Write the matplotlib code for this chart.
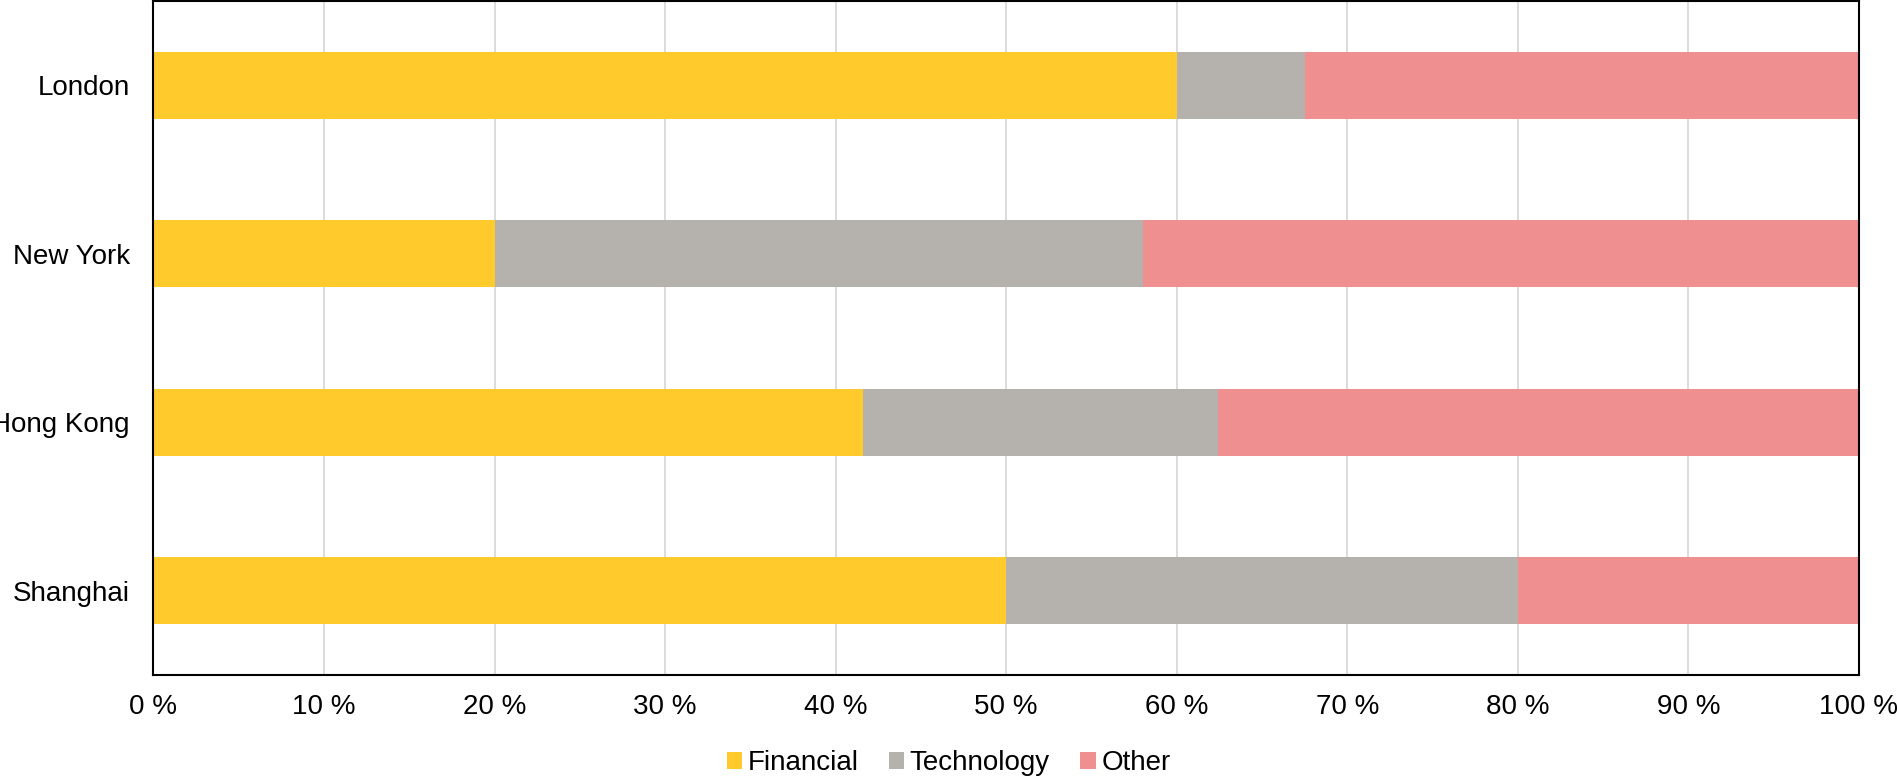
import numpy as np
import matplotlib
matplotlib.use('Agg')
import matplotlib.pyplot as plt

plt.rcParams['font.family'] = ['Liberation Sans', 'DejaVu Sans']

# data (share of listings, %)
cities = ['London', 'New York', 'Hong Kong', 'Shanghai']
financial = [60.0, 20.0, 41.6, 50.0]
technology = [7.5, 38.0, 20.8, 30.0]
other = [32.5, 42.0, 37.6, 20.0]
series_names = ['Financial', 'Technology', 'Other']
colors = ['#FFCA2B', '#B5B2AE', '#EF8F8F']

fig = plt.figure(figsize=(18.97, 7.77), dpi=100)
ax = fig.add_axes([0.0809, 0.1313, 0.899, 0.8674])

y = np.arange(len(cities))
left = np.zeros(len(cities))
for vals, name, c in zip([financial, technology, other], series_names, colors):
    ax.barh(y, vals, left=left, height=0.4, color=c, label=name, zorder=2)
    left = left + np.array(vals)

ax.set_xlim(0, 100)
ax.set_ylim(3.5, -0.5)
ax.set_yticks(y)
ax.set_yticklabels(cities, fontsize=20)
ax.set_xticks(np.arange(0, 101, 10))
ax.set_xticklabels([f'{v} %' for v in range(0, 101, 10)], fontsize=20)
ax.tick_params(axis='both', length=0)
ax.tick_params(axis='x', pad=14)
ax.tick_params(axis='y', pad=17)
ax.xaxis.grid(True, color='#D9D9D9', linewidth=1.3, zorder=0)
ax.set_axisbelow(True)
for s in ax.spines.values():
    s.set_color('black')
    s.set_linewidth(1.5)

# legend is centred on the figure, not the axes
handles, labels = ax.get_legend_handles_labels()
fig.legend(handles, labels, loc='center', bbox_to_anchor=(0.5, 0.018), ncol=3,
           frameon=False, fontsize=20, handlelength=0.55, handleheight=0.55,
           handletextpad=0.2, columnspacing=1.1)

fig.savefig('out.png', dpi=100)
